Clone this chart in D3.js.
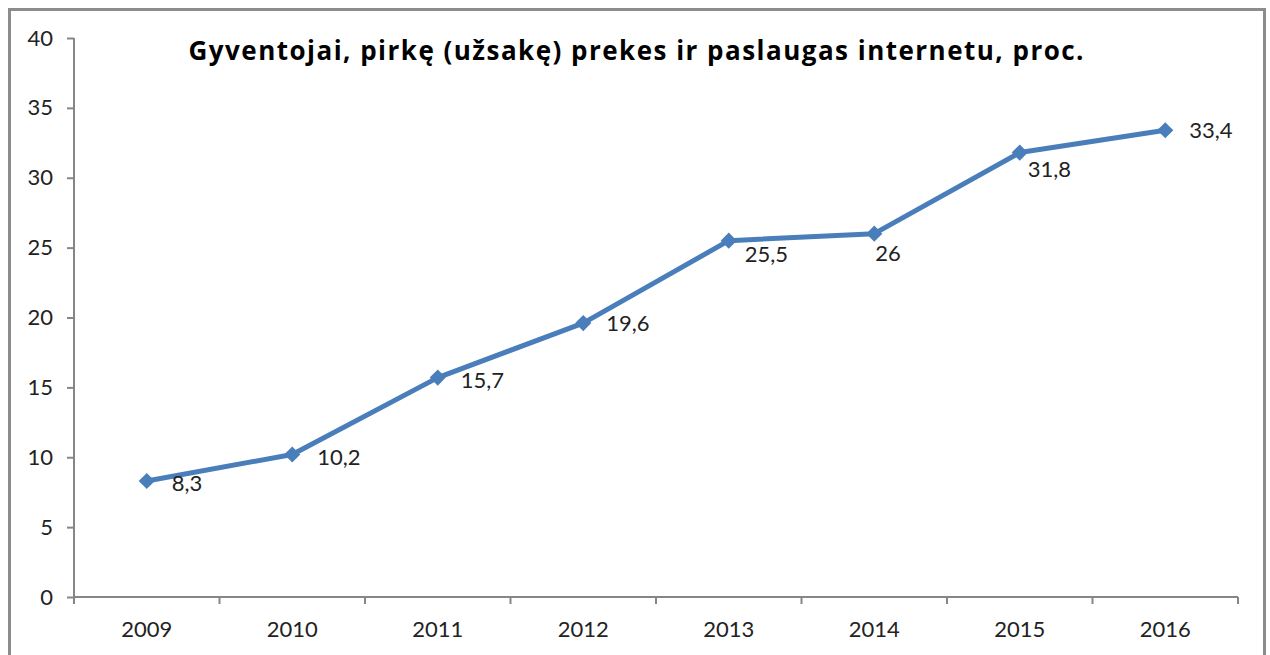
<!DOCTYPE html>
<html>
<head>
<meta charset="utf-8">
<script src="https://cdn.jsdelivr.net/npm/d3@7"></script>
<style>
  body { margin: 0; background: #fff; }
  svg { display: block; }
</style>
</head>
<body>
<div id="canvas"></div>
<script>
var years = ["2009", "2010", "2011", "2012", "2013", "2014", "2015", "2016"]
var values = [8.3, 10.2, 15.7, 19.6, 25.5, 26, 31.8, 33.4]
var valueLabels = ["8,3", "10,2", "15,7", "19,6", "25,5", "26", "31,8", "33,4"]
var yTicks = [0, 5, 10, 15, 20, 25, 30, 35, 40]
var title = "Gyventojai, pirkę (užsakę) prekes ir paslaugas internetu, proc."

var width = 1270
var height = 655
var plotLeft = 74, plotRight = 1238, plotTop = 38, plotBottom = 597
var blue = "#4a7ebb"
var axisGrey = "#868686"
var font = "Lato, 'Open Sans', sans-serif"

var svg = d3.select("#canvas")
    .append("svg")
    .attr("width", width)
    .attr("height", height)

// outer frame (bottom edge is cut off in the picture)
svg.append("rect")
    .attr("x", 9.5)
    .attr("y", 9.5)
    .attr("width", 1255)
    .attr("height", 680)
    .attr("fill", "#fff")
    .attr("stroke", "#8c8c8c")
    .attr("stroke-width", 3)

var xScale = d3.scaleBand().domain(years).range([plotLeft, plotRight])
var yScale = d3.scaleLinear().domain([0, 40]).range([plotBottom, plotTop])

// y axis
var yAxis = svg.append("g")
    .attr("transform", `translate(${plotLeft},0)`)
    .call(d3.axisLeft(yScale).tickValues(yTicks).tickSize(7).tickPadding(14))
yAxis.select(".domain").attr("stroke", axisGrey).attr("stroke-width", 2)
    .attr("d", `M0,${plotTop}V${plotBottom}`)
yAxis.selectAll(".tick line").attr("stroke", axisGrey).attr("stroke-width", 2)
yAxis.selectAll(".tick text")
    .attr("fill", "#222")
    .style("font-family", font)
    .style("font-size", "22px")

// x axis, ticks between categories like Excel
var xAxis = svg.append("g")
    .attr("transform", `translate(0,${plotBottom})`)
    .call(d3.axisBottom(xScale).tickSize(0).tickPadding(24))
xAxis.select(".domain").attr("stroke", axisGrey).attr("stroke-width", 2)
    .attr("d", `M${plotLeft},0H${plotRight}`)
xAxis.selectAll(".tick text")
    .attr("fill", "#222")
    .style("font-family", font)
    .style("font-size", "22px")

var boundaries = years.map(function (d) { return xScale(d) }).concat([plotRight])
xAxis.selectAll(".sep")
    .data(boundaries)
    .enter()
    .append("line")
    .attr("class", "sep")
    .attr("x1", function (d) { return d })
    .attr("x2", function (d) { return d })
    .attr("y1", 0)
    .attr("y2", 7)
    .attr("stroke", axisGrey)
    .attr("stroke-width", 2)

// title
svg.append("text")
    .attr("x", 636)
    .attr("y", 60)
    .attr("text-anchor", "middle")
    .attr("textLength", 895)
    .attr("lengthAdjust", "spacing")
    .style("font-family", "'Open Sans', sans-serif")
    .style("font-weight", "bold")
    .style("font-size", "26px")
    .attr("fill", "#000")
    .text(title)

var points = years.map(function (y, i) {
    return { year: y, value: values[i], label: valueLabels[i] }
})
var cx = function (d) { return xScale(d.year) + xScale.bandwidth() / 2 }
var cy = function (d) { return yScale(d.value) }

var line = d3.line().x(cx).y(cy)

svg.append("path")
    .datum(points)
    .attr("d", line)
    .attr("fill", "none")
    .attr("stroke", blue)
    .attr("stroke-width", 5)
    .attr("stroke-linejoin", "round")

svg.selectAll(".dot")
    .data(points)
    .enter()
    .append("path")
    .attr("class", "dot")
    .attr("d", d3.symbol().type(d3.symbolSquare).size(130))
    .attr("transform", function (d) { return `translate(${cx(d)},${cy(d)}) rotate(45)` })
    .attr("fill", blue)

// label offsets from the marker (Excel put some labels right, some below-right)
var labelOffset = {
    "2009": [25, 10], "2010": [25, 11], "2011": [23, 10], "2012": [23, 8],
    "2013": [16, 21], "2014": [1, 27], "2015": [8, 24], "2016": [24, 8]
}

svg.selectAll(".lbl")
    .data(points)
    .enter()
    .append("text")
    .attr("class", "lbl")
    .attr("x", function (d) { return cx(d) + labelOffset[d.year][0] })
    .attr("y", function (d) { return cy(d) + labelOffset[d.year][1] })
    .style("font-family", font)
    .style("font-size", "22px")
    .attr("fill", "#222")
    .text(function (d) { return d.label })
</script>
</body>
</html>
